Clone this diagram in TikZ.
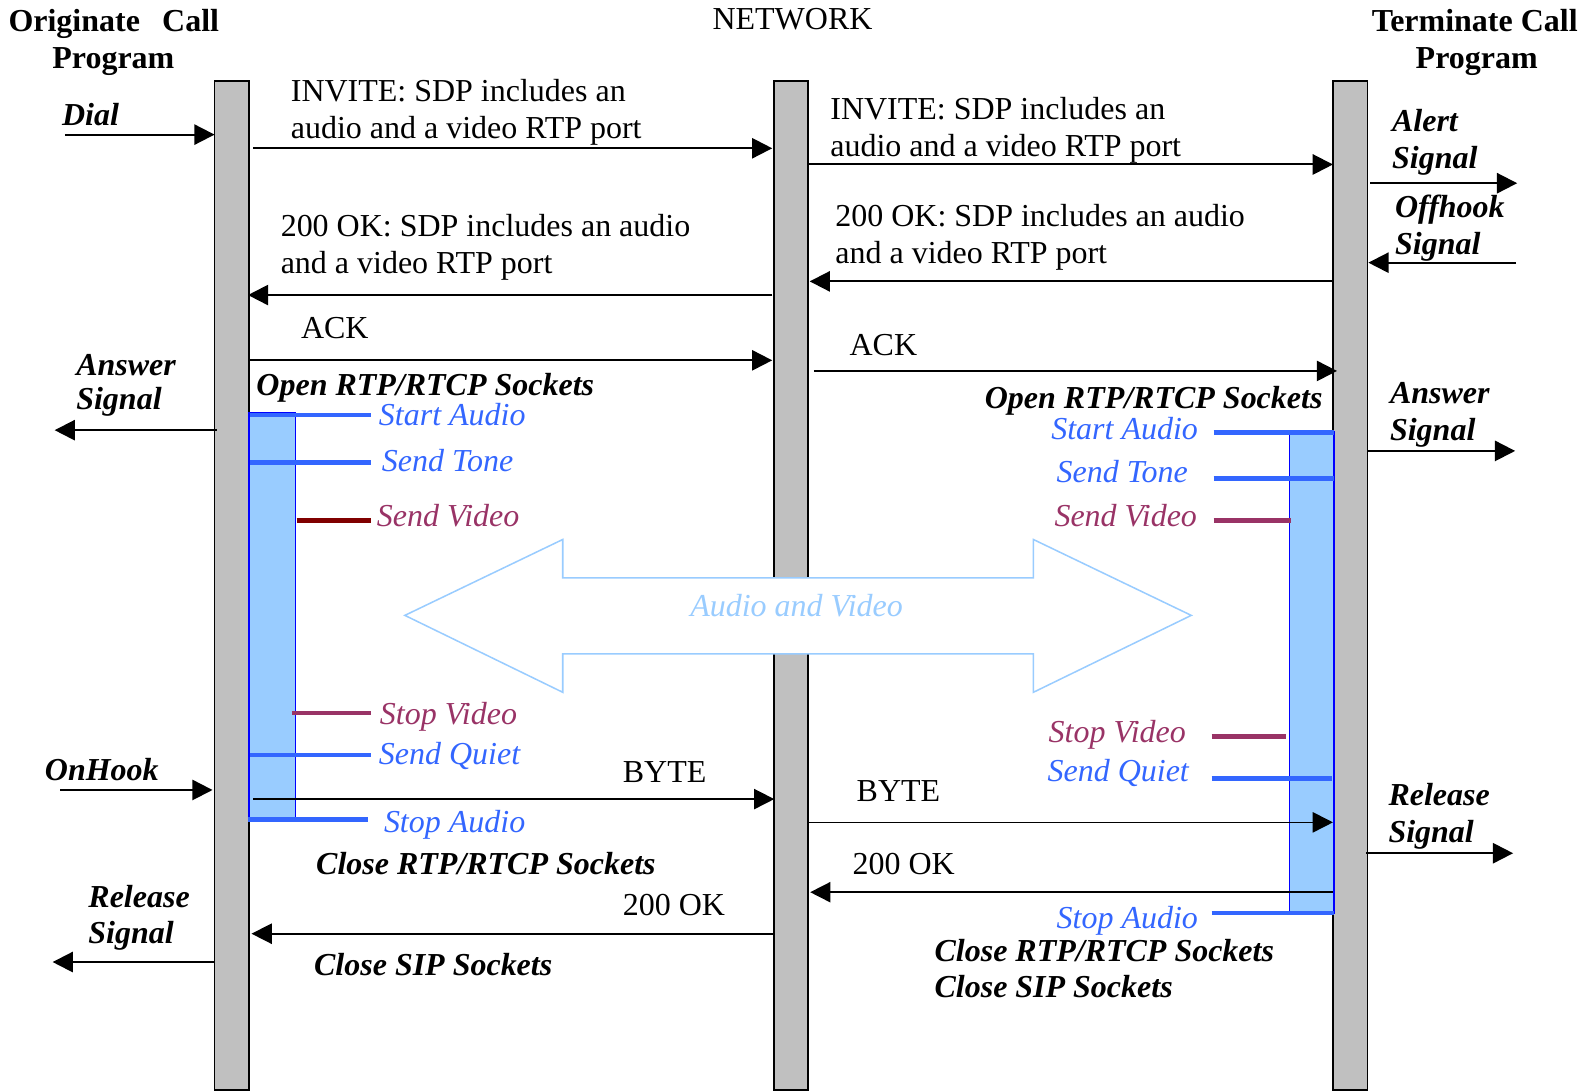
\documentclass[tikz,border=0pt]{standalone}
\usepackage{fontspec}
\setmainfont{Liberation Serif}
\usetikzlibrary{arrows.meta}
\definecolor{bargray}{HTML}{C0C0C0}
\definecolor{tblue}{HTML}{3366FF}
\definecolor{boxblue}{HTML}{99CCFF}
\definecolor{boxline}{HTML}{0000FF}
\definecolor{vred}{HTML}{993366}
\definecolor{dred}{HTML}{800000}
\definecolor{lblue}{HTML}{99CCFF}
\newcommand{\fsz}{\fontsize{15.8}{18}\selectfont}
\tikzset{
  bar/.style={draw=black, fill=bargray, line width=0.75pt, minimum width=17pt, inner sep=0pt},
  actbox/.style={draw=boxline, fill=boxblue, line width=0.75pt, inner sep=0pt},
  msg/.style={line width=1pt, -{Triangle[length=10pt,width=10pt]}},
  thinmsg/.style={line width=0.8pt, -{Triangle[length=10pt,width=10pt]}},
  lbl/.style={anchor=base west, inner sep=0pt},
  hdr/.style={inner sep=0pt, font=\fsz\bfseries},
  sig/.style={anchor=base west, inner sep=0pt, font=\fsz\bfseries\itshape},
  sock/.style={inner sep=0pt, font=\fsz\bfseries\itshape},
  blab/.style={inner sep=0pt, text=tblue, font=\fsz\itshape},
  vlab/.style={inner sep=0pt, text=vred, font=\fsz\itshape},
  tickb/.style={draw=tblue, line width=2.4pt},
  tickv/.style={draw=vred, line width=2.4pt},
  tickd/.style={draw=dred, line width=2.4pt},
}
\begin{document}
\begin{tikzpicture}[x=0.5pt,y=-0.5pt, font=\fsz]
\useasboundingbox (0,0) rectangle (1568,1078);
% lifelines
\node[bar, minimum height=498.5pt] (L) at (229,578.5) {};
\node[bar, minimum height=498.5pt] (N) at (781.5,578.5) {};
\node[bar, minimum height=498.5pt] (R) at (1334,578.5) {};
% audio and video double arrow
\draw[draw=lblue, line width=0.75pt, fill=white]
  (400,608) -- (556,533) -- (556,571) -- (1021,571) -- (1021,533) -- (1177,608)
  -- (1021,684) -- (1021,646) -- (556,646) -- (556,684) -- cycle;
\node[inner sep=0pt, anchor=base, text=lblue, font=\fsz\itshape] (av) at (787,609.5) {Audio and Video};
% activation boxes
\node[actbox, minimum width=23pt, minimum height=201pt] (AL) at (269,609) {};
\node[actbox, minimum width=22pt, minimum height=237.5pt] (AR) at (1296,664.5) {};
% headers
\node[hdr, anchor=base west] (h1) at (8,31) {Originate\hspace{11pt}Call};
\node[hdr, anchor=base] (h2) at (112,67.5) {Program};
\node[inner sep=0pt, anchor=base] (net) at (783,29.6) {NETWORK};
\node[hdr, anchor=base west] (h3) at (1355,31) {Terminate Call};
\node[hdr, anchor=base] (h4) at (1459,67.5) {Program};
% coordinates for connectors
\coordinate (d0s) at (64,133);      \coordinate (d0e) at (212,133);
\coordinate (m1s) at (250,146.5);   \coordinate (m1e) at (763,146.5);
\coordinate (m2s) at (799,162.5);   \coordinate (m2e) at (1317,162.5);
\coordinate (m3s) at (1354,181);    \coordinate (m3e) at (1499,181);
\coordinate (m4s) at (1498,259.5);  \coordinate (m4e) at (1352,259.5);
\coordinate (m5s) at (1317,278);    \coordinate (m5e) at (800,278);
\coordinate (m6s) at (763,291.5);   \coordinate (m6e) at (245,291.5);
\coordinate (m7s) at (246,356);     \coordinate (m7e) at (763,356);
\coordinate (m8s) at (804,366.5);   \coordinate (m8e) at (1321,366.5);
\coordinate (m9s) at (214,425);     \coordinate (m9e) at (54,425);
\coordinate (m10s) at (1352,445.5); \coordinate (m10e) at (1497,445.5);
\coordinate (m11s) at (59.5,780.5); \coordinate (m11e) at (210,780.5);
\coordinate (m12s) at (250,789.5);  \coordinate (m12e) at (765,789.5);
\coordinate (m13s) at (799.5,812.5);\coordinate (m13e) at (1317,812.5);
\coordinate (m14s) at (1350,843);   \coordinate (m14e) at (1495,843);
\coordinate (m15s) at (1317,881.5); \coordinate (m15e) at (800.5,881.5);
\coordinate (m16s) at (765,922.5);  \coordinate (m16e) at (248.5,922.5);
\coordinate (m17s) at (211.5,950.5);\coordinate (m17e) at (52,950.5);
% tick coordinates
\coordinate (la1) at (247,410);   \coordinate (la2) at (367,410);
\coordinate (lb1) at (247,457);   \coordinate (lb2) at (367,457);
\coordinate (lc1) at (293,514);   \coordinate (lc2) at (367,514);
\coordinate (ld1) at (288.5,704.5); \coordinate (ld2) at (367,704.5);
\coordinate (le1) at (247,746);   \coordinate (le2) at (367,746);
\coordinate (lf1) at (245,810);   \coordinate (lf2) at (364,810);
\coordinate (ra1) at (1199,427);  \coordinate (ra2) at (1318,427);
\coordinate (rb1) at (1199,473);  \coordinate (rb2) at (1318,473);
\coordinate (rc1) at (1199,514);  \coordinate (rc2) at (1276,514);
\coordinate (rd1) at (1197,728);  \coordinate (rd2) at (1271,728);
\coordinate (re1) at (1197,769);  \coordinate (re2) at (1316,769);
\coordinate (rf1) at (1197,902);  \coordinate (rf2) at (1318,902);
% ticks
\draw[tickb] (la1) -- (la2);
\draw[tickb] (lb1) -- (lb2);
\draw[tickd] (lc1) -- (lc2);
\draw[tickv] (ld1) -- (ld2);
\draw[tickb] (le1) -- (le2);
\draw[tickb] (lf1) -- (lf2);
\draw[tickb] (ra1) -- (ra2);
\draw[tickb] (rb1) -- (rb2);
\draw[tickv] (rc1) -- (rc2);
\draw[tickv] (rd1) -- (rd2);
\draw[tickb] (re1) -- (re2);
\draw[tickb] (rf1) -- (rf2);
% messages
\draw[msg] (d0s) -- (d0e);
\draw[msg] (m1s) -- (m1e);
\draw[msg] (m2s) -- (m2e);
\draw[msg] (m3s) -- (m3e);
\draw[msg] (m4s) -- (m4e);
\draw[msg] (m5s) -- (m5e);
\draw[msg] (m6s) -- (m6e);
\draw[msg] (m7s) -- (m7e);
\draw[msg] (m8s) -- (m8e);
\draw[msg] (m9s) -- (m9e);
\draw[msg] (m10s) -- (m10e);
\draw[msg] (m11s) -- (m11e);
\draw[thinmsg] (m12s) -- (m12e);
\draw[thinmsg] (m13s) -- (m13e);
\draw[msg] (m14s) -- (m14e);
\draw[thinmsg] (m15s) -- (m15e);
\draw[thinmsg] (m16s) -- (m16e);
\draw[msg] (m17s) -- (m17e);
% message labels
\node[lbl] (t1a) at (287,100.5) {INVITE: SDP includes an};
\node[lbl] (t1b) at (287,136.5) {audio and a video RTP port};
\node[lbl] (t2a) at (820,118) {INVITE: SDP includes an};
\node[lbl] (t2b) at (820,155) {audio and a video RTP port};
\node[lbl] (t3a) at (277,234) {200 OK: SDP includes an audio};
\node[lbl] (t3b) at (277,270) {and a video RTP port};
\node[lbl] (t4a) at (825,224) {200 OK: SDP includes an audio};
\node[lbl] (t4b) at (825,260) {and a video RTP port};
\node[lbl] (ack1) at (297,334) {ACK};
\node[lbl] (ack2) at (839,351) {ACK};
\node[lbl] (byte1) at (615,773) {BYTE};
\node[lbl] (byte2) at (846,791.5) {BYTE};
\node[lbl] (ok1) at (615,905) {200 OK};
\node[lbl] (ok2) at (842,864.5) {200 OK};
% signals
\node[sig] (dial) at (61,123.5) {Dial};
\node[sig] (ans1a) at (75,370.5) {Answer};
\node[sig] (ans1b) at (75,405) {Signal};
\node[sig] (al1) at (1375,130) {Alert};
\node[sig] (al2) at (1375,166) {Signal};
\node[sig] (of1) at (1378,215) {Offhook};
\node[sig] (of2) at (1378,251) {Signal};
\node[sig] (ans2a) at (1373,398.5) {Answer};
\node[sig] (ans2b) at (1373,435) {Signal};
\node[sig] (onh) at (44,771.5) {OnHook};
\node[sig] (rel1a) at (87,897) {Release};
\node[sig] (rel1b) at (87,932) {Signal};
\node[sig] (rel2a) at (1371.5,795.5) {Release};
\node[sig] (rel2b) at (1371.5,832) {Signal};
% socket notes
\node[sock, anchor=base west] (op1) at (253,391) {Open RTP/RTCP Sockets};
\node[sock, anchor=base east] (op2) at (1307,403.5) {Open RTP/RTCP Sockets};
\node[sock, anchor=base west] (cr1) at (312,864.5) {Close RTP/RTCP Sockets};
\node[sock, anchor=base west] (cs1) at (310,964) {Close SIP Sockets};
\node[sock, anchor=base west] (cr2) at (923,949.5) {Close RTP/RTCP Sockets};
\node[sock, anchor=base west] (cs2) at (923,985.5) {Close SIP Sockets};
% media labels
\node[blab, anchor=base west] (sa1) at (374,420) {Start Audio};
\node[blab, anchor=base west] (st1) at (377,465.5) {Send Tone};
\node[vlab, anchor=base west] (sv1) at (372,520.5) {Send Video};
\node[vlab, anchor=base west] (sp1) at (375,715.5) {Stop Video};
\node[blab, anchor=base west] (sq1) at (374,755) {Send Quiet};
\node[blab, anchor=base west] (sx1) at (379,823) {Stop Audio};
\node[blab, anchor=base east] (sa2) at (1184,434) {Start Audio};
\node[blab, anchor=base east] (st2) at (1174,477) {Send Tone};
\node[vlab, anchor=base east] (sv2) at (1183,520.5) {Send Video};
\node[vlab, anchor=base east] (sp2) at (1172,734) {Stop Video};
\node[blab, anchor=base east] (sq2) at (1175,772.5) {Send Quiet};
\node[blab, anchor=base east] (sx2) at (1184,917) {Stop Audio};
\end{tikzpicture}
\end{document}
